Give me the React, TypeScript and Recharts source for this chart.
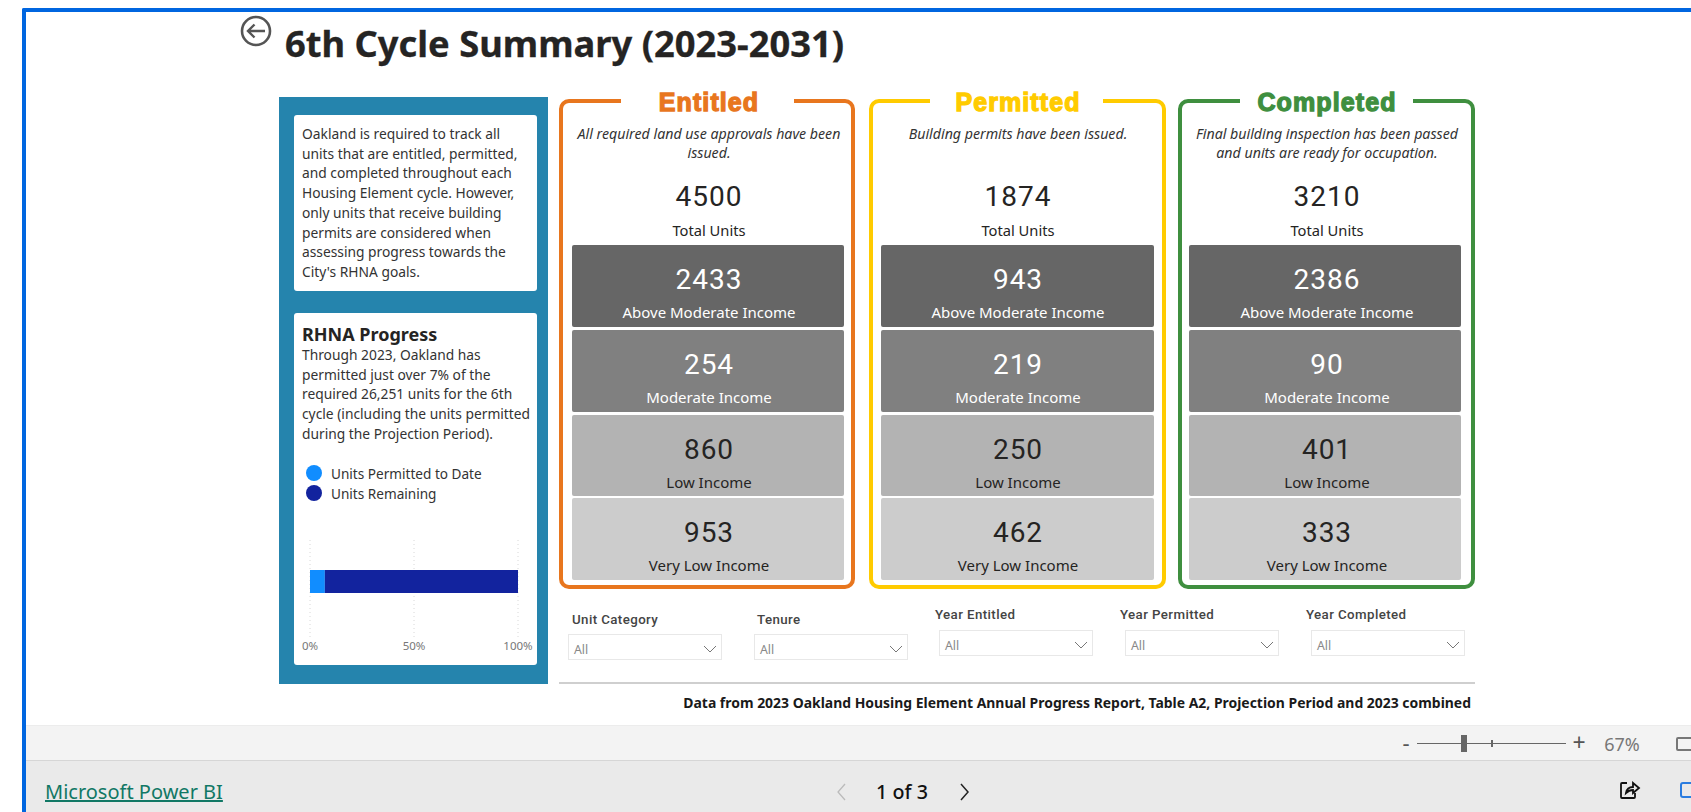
import React from "react";
import { BarChart, Bar, XAxis, YAxis, CartesianGrid, Legend } from "recharts";

const TITLE = "6th Cycle Summary (2023-2031)";
const introLines = ["Oakland is required to track all", "units that are entitled, permitted,", "and completed throughout each", "Housing Element cycle. However,", "only units that receive building", "permits are considered when", "assessing progress towards the", "City's RHNA goals."];
const rhnaLines = ["Through 2023, Oakland has", "permitted just over 7% of the", "required 26,251 units for the 6th", "cycle (including the units permitted", "during the Projection Period)."];
const rhnaData = [{ name: "RHNA", permitted: 1874, remaining: 24377 }];
const pctTicks = [0, 0.5, 1];

const cardNames = ["Entitled", "Permitted", "Completed"];
const cardColors = ["#e8761e", "#ffcb00", "#3f8f3f"];
const cardNotes = [["All required land use approvals have been", "issued."], ["Building permits have been issued."], ["Final building inspection has been passed", "and units are ready for occupation."]];
const cardTotals = [4500, 1874, 3210];
const aboveModerate = [2433, 943, 2386];
const moderate = [254, 219, 90];
const low = [860, 250, 401];
const veryLow = [953, 462, 333];
const tierNames = ["Above Moderate Income", "Moderate Income", "Low Income", "Very Low Income"];
const tierFills = ["#666666", "#808080", "#b3b3b3", "#cccccc"];
const tierInk = ["#ffffff", "#ffffff", "#252423", "#252423"];
const tierValues = [aboveModerate, moderate, low, veryLow];
const slicerNames = ["Unit Category", "Tenure", "Year Entitled", "Year Permitted", "Year Completed"];
const FOOTNOTE = "Data from 2023 Oakland Housing Element Annual Progress Report, Table A2, Projection Period and 2023 combined";

const SANS = "'Noto Sans', sans-serif";
const DIN = "Roboto, sans-serif";

const Box = ({ x, y, w, h, style }: any) => <div style={{ position: "absolute", left: x, top: y, width: w, height: h, ...style }} />;
const T = ({ x, y, anchor = "left", children, style }: any) => (
  <div style={{ position: "absolute", left: x, top: y, whiteSpace: "nowrap", lineHeight: 1, transform: `translate(${anchor === "center" ? "-50%" : anchor === "right" ? "-100%" : "0"},-50%)`, ...style }}>{children}</div>
);

const cardX = [559, 869, 1178];
const cardWidth = [296, 297, 297];
const cardMid = [709, 1018, 1327];
const tierX = [572, 881, 1189];
const tierW = [272, 273, 272];
const cardGap = [[621, 794], [930, 1103], [1240, 1413]];
const tierY = [245, 330, 415, 498];
const tierH = [82, 82, 81, 82];

function Card({ i }: { i: number }) {
  const x = cardX[i];
  const c = cardColors[i];
  const cx = cardMid[i];
  return (
    <>
      <Box x={x} y={99} w={cardWidth[i]} h={490} style={{ boxSizing: "border-box", border: `4px solid ${c}`, borderRadius: 10 }} />
      <Box x={cardGap[i][0]} y={94} w={cardGap[i][1] - cardGap[i][0]} h={12} style={{ background: "#fff" }} />
      <T x={cx} y={102} anchor="center" style={{ fontFamily: "'Liberation Sans', sans-serif", fontWeight: 700, fontSize: 25, color: c, WebkitTextStroke: `1.3px ${c}`, letterSpacing: 1.1 }}>{cardNames[i]}</T>
      {cardNotes[i].map((l, k) => (
        <T key={k} x={cx} y={133.5 + k * 19.5} anchor="center" style={{ fontFamily: SANS, fontStyle: "italic", fontSize: 14.2, color: "#333" }}>{l}</T>
      ))}
      <T x={cx} y={197} anchor="center" style={{ fontFamily: DIN, fontSize: 28, letterSpacing: 1, color: "#252423" }}>{cardTotals[i]}</T>
      <T x={cx} y={229.5} anchor="center" style={{ fontFamily: SANS, fontSize: 14.7, color: "#252423" }}>Total Units</T>
      {tierNames.map((n, k) => (
        <React.Fragment key={n}>
          <Box x={tierX[i]} y={tierY[k]} w={tierW[i]} h={tierH[k]} style={{ background: tierFills[k], borderRadius: 2 }} />
          <T x={cx} y={tierY[k] + 35} anchor="center" style={{ fontFamily: DIN, fontSize: 28, letterSpacing: 1, color: tierInk[k] }}>{tierValues[k][i]}</T>
          <T x={cx} y={tierY[k] + 66.5} anchor="center" style={{ fontFamily: SANS, fontSize: 15, color: tierInk[k] }}>{n}</T>
        </React.Fragment>
      ))}
    </>
  );
}

const slicerX = [568, 754, 939, 1125, 1311];
const slicerY = [634, 634, 630, 630, 630];
const slicerLabelX = [572, 757, 935, 1120, 1306];
const slicerLabelY = [620, 620, 615, 615, 615];

function Slicer({ i }: { i: number }) {
  const x = slicerX[i];
  const y = slicerY[i];
  return (
    <>
      <T x={slicerLabelX[i]} y={slicerLabelY[i]} style={{ fontFamily: DIN, fontWeight: 500, fontSize: 13.3, letterSpacing: 0.4, color: "#444" }}>{slicerNames[i]}</T>
      <Box x={x} y={y} w={154} h={26} style={{ boxSizing: "border-box", border: "1px solid #e8e8e8" }} />
      <T x={x + 6} y={y + 15.5} style={{ fontFamily: SANS, fontSize: 12.3, color: "#888" }}>All</T>
      <svg style={{ position: "absolute", left: x + 135, top: y + 11 }} width="14" height="8"><path d="M1 1 L7 7 L13 1" fill="none" stroke="#777" strokeWidth="1" /></svg>
    </>
  );
}

const LegendBody = ({ payload }: any) => (
  <div>
    {(payload || []).map((e: any) => (
      <div key={e.value} style={{ display: "flex", alignItems: "center", height: 20 }}>
        <span style={{ width: 16, height: 16, borderRadius: 8, background: e.color, display: "inline-block", marginRight: 9 }} />
        <span style={{ fontFamily: SANS, fontSize: 13.6, color: "#333" }}>{e.value}</span>
      </div>
    ))}
  </div>
);

export default function App() {
  return (
    <div style={{ position: "absolute", left: 0, top: 0, width: 1691, height: 812, overflow: "hidden", background: "#fff" }}>
      <Box x={22} y={8} w={1669} h={804} style={{ boxSizing: "border-box", borderTop: "4px solid #0066e0", borderLeft: "4px solid #0066e0", borderTopLeftRadius: 2 }} />
      <svg style={{ position: "absolute", left: 240, top: 15 }} width="32" height="32">
        <circle cx="16" cy="16" r="14" fill="none" stroke="#555" strokeWidth="2.6" />
        <path d="M25 16 H8 M14.5 9.5 L8 16 L14.5 22.5" fill="none" stroke="#555" strokeWidth="2.4" />
      </svg>
      <T x={285} y={43} style={{ fontFamily: SANS, fontWeight: 700, fontSize: 36.3, color: "#252423", WebkitTextStroke: "0.3px #252423" }}>{TITLE}</T>

      <Box x={279} y={97} w={269} h={587} style={{ background: "#2584ad" }} />
      <Box x={294} y={115} w={243} h={176} style={{ background: "#fff", borderRadius: 3 }} />
      <Box x={294} y={313} w={243} h={352} style={{ background: "#fff", borderRadius: 3 }} />
      {introLines.map((l, k) => (
        <T key={k} x={302} y={134 + k * 19.7} style={{ fontFamily: SANS, fontSize: 13.8, color: "#333" }}>{l}</T>
      ))}
      <T x={302} y={334} style={{ fontFamily: SANS, fontWeight: 700, fontSize: 18, color: "#252423" }}>RHNA Progress</T>
      {rhnaLines.map((l, k) => (
        <T key={k} x={302} y={355 + k * 19.7} style={{ fontFamily: SANS, fontSize: 13.8, color: "#333" }}>{l}</T>
      ))}
      <div style={{ position: "absolute", left: 300, top: 460 }}>
        <BarChart width={240} height={200} data={rhnaData} layout="vertical" stackOffset="expand" margin={{ top: 40, right: 22, bottom: 3, left: 10 }}>
          <CartesianGrid horizontal={false} stroke="#d8d8d8" strokeDasharray="1 3" />
          <XAxis type="number" height={20} domain={[0, 1]} ticks={pctTicks} interval={0} tickFormatter={(v: number) => `${v * 100}%`} axisLine={false} tickLine={false} tick={{ fill: "#777", fontSize: 11.5, fontFamily: SANS, dy: -3 }} />
          <YAxis type="category" dataKey="name" hide padding={{ top: 0, bottom: 14 }} />
          <Legend layout="horizontal" align="left" verticalAlign="top" wrapperStyle={{ left: 6, top: 3, width: 220 }} content={<LegendBody />} />
          <Bar dataKey="permitted" name="Units Permitted to Date" stackId="a" fill="#118dff" barSize={23} isAnimationActive={false} />
          <Bar dataKey="remaining" name="Units Remaining" stackId="a" fill="#12239e" barSize={23} isAnimationActive={false} />
        </BarChart>
      </div>

      {cardNames.map((_, i) => <Card key={i} i={i} />)}
      {slicerNames.map((_, i) => <Slicer key={i} i={i} />)}

      <Box x={559} y={682} w={916} h={2} style={{ background: "#cfcfcf" }} />
      <T x={1471} y={703} anchor="right" style={{ fontFamily: SANS, fontWeight: 700, fontSize: 13.95, color: "#1a1a1a" }}>{FOOTNOTE}</T>

      <Box x={26} y={725} w={1665} h={36} style={{ background: "#f3f3f3", borderTop: "1px solid #ececec", borderBottom: "1px solid #d6d6d6", boxSizing: "border-box" }} />
      <Box x={26} y={761} w={1665} h={51} style={{ background: "#eaeaea" }} />
      <T x={1406} y={742} anchor="center" style={{ fontFamily: SANS, fontSize: 22, color: "#555" }}>-</T>
      <Box x={1417} y={743} w={149} h={1} style={{ background: "#666" }} />
      <Box x={1461} y={735} w={6} h={17} style={{ background: "#666" }} />
      <Box x={1490.5} y={740} w={2} h={7} style={{ background: "#666" }} />
      <T x={1579} y={742} anchor="center" style={{ fontFamily: SANS, fontSize: 23, color: "#555" }}>+</T>
      <T x={1622} y={744} anchor="center" style={{ fontFamily: SANS, fontSize: 18, color: "#777" }}>67%</T>
      <Box x={1676} y={737} w={18} h={14} style={{ boxSizing: "border-box", border: "2px solid #777", borderRadius: 2 }} />

      <T x={45} y={792} style={{ fontFamily: SANS, fontSize: 20, color: "#117865", textDecoration: "underline" }}>Microsoft Power BI</T>
      <svg style={{ position: "absolute", left: 836, top: 782 }} width="12" height="20"><path d="M9 2 L2 10 L9 18" fill="none" stroke="#bbb" strokeWidth="1.3" /></svg>
      <T x={902} y={792} anchor="center" style={{ fontFamily: SANS, fontWeight: 500, fontSize: 19.7, color: "#111" }}>1 of 3</T>
      <svg style={{ position: "absolute", left: 959, top: 782 }} width="12" height="20"><path d="M2 2 L9 10 L2 18" fill="none" stroke="#222" strokeWidth="1.5" /></svg>
      <svg style={{ position: "absolute", left: 1619, top: 779 }} width="22" height="22">
        <path d="M8 4 H3 Q2 4 2 5 V18 Q2 19 3 19 H15 Q16 19 16 18 V14" fill="none" stroke="#111" strokeWidth="1.8" />
        <path d="M7 14 Q8 8 14 8 V4 L20 9 L14 14 V11 Q10 11 7 14 Z" fill="none" stroke="#111" strokeWidth="1.8" />
      </svg>
      <Box x={1680} y={782} w={14} h={16} style={{ boxSizing: "border-box", border: "2px solid #2b7de0", borderRadius: 3 }} />
    </div>
  );
}
